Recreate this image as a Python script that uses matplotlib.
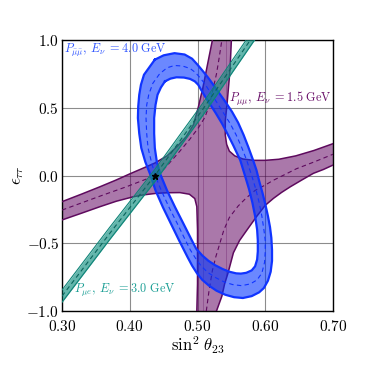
import matplotlib
matplotlib.use("Agg")
import numpy as np
import matplotlib.pyplot as plt
from matplotlib.path import Path
from matplotlib.patches import PathPatch

# ---- data (sin^2 theta23, eps_tautau) ----
true_point = (0.437, 0.0)

# P_mumu, E = 1.5 GeV : four boundary curves of the band + the two central branches
pm_ul_x = [0.300, 0.330, 0.356, 0.380, 0.400, 0.420, 0.437, 0.455, 0.470, 0.483, 0.494, 0.501, 0.508, 0.514, 0.518, 0.522]
pm_ul_y = [-0.193, -0.135, -0.083, -0.033, 0.012, 0.055, 0.092, 0.145, 0.215, 0.285, 0.375, 0.500, 0.650, 0.800, 0.900, 1.000]
pm_ur_x = [0.550, 0.548, 0.544, 0.541, 0.541, 0.543, 0.547, 0.555, 0.567, 0.583, 0.600, 0.620, 0.645, 0.672, 0.700]
pm_ur_y = [1.000, 0.780, 0.550, 0.400, 0.300, 0.230, 0.180, 0.145, 0.122, 0.112, 0.112, 0.120, 0.145, 0.185, 0.235]
pm_lr_x = [0.700, 0.686, 0.671, 0.655, 0.637, 0.624, 0.612, 0.600, 0.587, 0.573, 0.562, 0.553, 0.545, 0.540, 0.536, 0.528]
pm_lr_y = [0.077, 0.045, 0.016, -0.030, -0.083, -0.125, -0.169, -0.220, -0.304, -0.402, -0.480, -0.570, -0.720, -0.800, -0.890, -1.000]
pm_ll_x = [0.499, 0.500, 0.500, 0.500, 0.499, 0.496, 0.488, 0.474, 0.457, 0.440, 0.420, 0.405, 0.380, 0.356, 0.330, 0.300]
pm_ll_y = [-1.000, -0.800, -0.600, -0.400, -0.230, -0.170, -0.138, -0.126, -0.127, -0.131, -0.143, -0.157, -0.190, -0.230, -0.276, -0.328]
pm_mid_a_x = [0.300, 0.330, 0.360, 0.395, 0.420, 0.437, 0.448, 0.459, 0.474, 0.489, 0.501, 0.511, 0.518, 0.523, 0.528, 0.532, 0.536]
pm_mid_a_y = [-0.255, -0.200, -0.145, -0.083, -0.035, 0.000, 0.035, 0.095, 0.180, 0.270, 0.350, 0.430, 0.530, 0.640, 0.750, 0.870, 1.000]
pm_mid_b_x = [0.513, 0.517, 0.522, 0.527, 0.533, 0.539, 0.547, 0.560, 0.572, 0.585, 0.600, 0.612, 0.626, 0.646, 0.672, 0.700]
pm_mid_b_y = [-1.000, -0.850, -0.700, -0.600, -0.500, -0.400, -0.310, -0.225, -0.165, -0.110, -0.070, -0.035, 0.000, 0.050, 0.100, 0.157]
pm_seams_x = [0.508, 0.542]

# Pbar_mumu, E = 4.0 GeV : closed ring (outer edge, inner edge, centre line)
pb_out_x = [0.437, 0.450, 0.466, 0.481, 0.492, 0.500, 0.508, 0.516, 0.524, 0.531, 0.541, 0.551, 0.560, 0.568,
            0.575, 0.582, 0.587, 0.591, 0.596, 0.600, 0.604, 0.607, 0.609, 0.610, 0.610, 0.608, 0.604, 0.598,
            0.591, 0.580, 0.567, 0.554, 0.541, 0.528, 0.517, 0.507, 0.499, 0.492, 0.4855, 0.480, 0.4725, 0.4605,
            0.449, 0.438, 0.430, 0.423, 0.417, 0.414, 0.412, 0.4125, 0.414, 0.4165, 0.421]
pb_out_y = [0.855, 0.887, 0.903, 0.893, 0.862, 0.818, 0.770, 0.720, 0.665, 0.615, 0.545, 0.470, 0.390, 0.300,
            0.210, 0.114, 0.040, -0.040, -0.130, -0.210, -0.300, -0.380, -0.460, -0.550, -0.630, -0.710, -0.776, -0.830,
            -0.862, -0.890, -0.904, -0.898, -0.880, -0.850, -0.813, -0.770, -0.720, -0.665, -0.604, -0.550, -0.476, -0.353,
            -0.235, -0.110, 0.011, 0.100, 0.203, 0.310, 0.424, 0.510, 0.596, 0.670, 0.744]
pb_in_x = [0.452, 0.460, 0.469, 0.480, 0.489, 0.496, 0.501, 0.505, 0.511, 0.518, 0.527, 0.536, 0.545, 0.553,
           0.563, 0.570, 0.576, 0.581, 0.585, 0.588, 0.589, 0.589, 0.588, 0.585, 0.580, 0.572, 0.564, 0.557,
           0.547, 0.537, 0.526, 0.516, 0.507, 0.498, 0.4914, 0.479, 0.467, 0.455, 0.445, 0.440, 0.437, 0.436,
           0.436, 0.438, 0.441, 0.446]
pb_in_y = [0.695, 0.715, 0.725, 0.723, 0.713, 0.695, 0.670, 0.635, 0.585, 0.530, 0.460, 0.385, 0.300, 0.220,
           0.114, 0.000, -0.100, -0.200, -0.300, -0.400, -0.480, -0.560, -0.620, -0.670, -0.700, -0.718, -0.724, -0.722,
           -0.710, -0.690, -0.662, -0.629, -0.590, -0.540, -0.476, -0.353, -0.235, -0.110, 0.011, 0.100, 0.203, 0.310,
           0.424, 0.520, 0.596, 0.650]
pb_mid_x = [0.4375, 0.432, 0.427, 0.425, 0.424, 0.425, 0.428, 0.434, 0.444, 0.455, 0.466, 0.478, 0.489, 0.497,
            0.504, 0.511, 0.518, 0.524, 0.531, 0.548, 0.557, 0.565, 0.5725, 0.580, 0.586, 0.591, 0.595, 0.598,
            0.600, 0.600, 0.599, 0.595, 0.588, 0.578, 0.565, 0.552, 0.540, 0.528, 0.515, 0.505, 0.497, 0.4895,
            0.482, 0.470, 0.458, 0.4465, 0.4375]
pb_mid_y = [0.000, 0.100, 0.203, 0.310, 0.424, 0.520, 0.596, 0.680, 0.750, 0.795, 0.812, 0.808, 0.790, 0.760,
            0.720, 0.675, 0.620, 0.575, 0.520, 0.385, 0.300, 0.210, 0.114, 0.000, -0.100, -0.200, -0.300, -0.400,
            -0.480, -0.560, -0.640, -0.720, -0.770, -0.800, -0.813, -0.805, -0.787, -0.757, -0.715, -0.665, -0.610, -0.550,
            -0.476, -0.353, -0.235, -0.110, 0.000]

# P_mue, E = 3.0 GeV : narrow band
pe_x = [0.300, 0.370, 0.437, 0.508, 0.578, 0.590]
pe_mid = [-0.890, -0.430, 0.000, 0.490, 1.000, 1.087]
pe_lo = [-0.935, -0.475, -0.045, 0.445, 0.955, 1.042]
pe_hi = [-0.845, -0.385, 0.045, 0.535, 1.045, 1.132]

xticks = [0.30, 0.40, 0.50, 0.60, 0.70]
yticks = [-1.0, -0.5, 0.0, 0.5, 1.0]

# ---- style ----
plt.rcParams['mathtext.fontset'] = 'cm'
plt.rcParams['font.family'] = 'serif'

purple_fill = '#640a64'
purple_line = '#5e0a5e'
blue_fill = '#0033ff'
blue_line = '#1034ff'
teal_fill = '#109080'
teal_line = '#0f8478'
dash = (0, (4, 3))

fig = plt.figure(figsize=(3.74, 3.74), dpi=100)
ax = fig.add_axes([0.1658, 0.1684, 0.7246, 0.7246])

# purple band
px = pm_ul_x + pm_ur_x + pm_lr_x + pm_ll_x
py = pm_ul_y + pm_ur_y + pm_lr_y + pm_ll_y
band = ax.fill(px, py, color=purple_fill, alpha=0.55, lw=0, zorder=2)[0]
for sx in pm_seams_x:
    seam = ax.axvline(sx, color=purple_line, alpha=0.35, lw=0.6, zorder=2)
    seam.set_clip_path(band)
for cx, cy in [(pm_ul_x, pm_ul_y), (pm_ur_x, pm_ur_y), (pm_lr_x, pm_lr_y), (pm_ll_x, pm_ll_y)]:
    ax.plot(cx, cy, color=purple_line, lw=1.1, zorder=3)
ax.plot(pm_mid_a_x, pm_mid_a_y, color=purple_line, lw=0.8, ls=dash, zorder=3)
ax.plot(pm_mid_b_x, pm_mid_b_y, color=purple_line, lw=0.8, ls=dash, zorder=3)

# blue ring
outer = np.column_stack([pb_out_x + pb_out_x[:1], pb_out_y + pb_out_y[:1]])
inner = np.column_stack([pb_in_x + pb_in_x[:1], pb_in_y + pb_in_y[:1]])[::-1]
verts = np.concatenate([outer, inner])
codes = ([Path.MOVETO] + [Path.LINETO] * (len(outer) - 2) + [Path.CLOSEPOLY] +
         [Path.MOVETO] + [Path.LINETO] * (len(inner) - 2) + [Path.CLOSEPOLY])
ax.add_patch(PathPatch(Path(verts, codes), facecolor=blue_fill, alpha=0.58, lw=0, zorder=4))
ax.plot(outer[:, 0], outer[:, 1], color=blue_line, lw=1.6, zorder=5)
ax.plot(inner[:, 0], inner[:, 1], color=blue_line, lw=1.6, zorder=5)
ax.plot(pb_mid_x, pb_mid_y, color=blue_line, lw=0.8, ls=dash, zorder=5)

# teal band
ax.fill_between(pe_x, pe_lo, pe_hi, color=teal_fill, alpha=0.65, lw=0, zorder=6)
ax.plot(pe_x, pe_lo, color=teal_line, lw=0.8, zorder=7)
ax.plot(pe_x, pe_hi, color=teal_line, lw=0.8, zorder=7)
ax.plot(pe_x, pe_mid, color='#0b645c', lw=0.8, ls=dash, zorder=7)

ax.plot(*true_point, marker='*', color='k', ms=5, zorder=8)

ax.text(0.303, 0.905, r'$P_{\bar{\mu}\bar{\mu}},\, E_{\nu}\ {=}4.0\ \mathrm{GeV}$', color='#2f55ff', fontsize=8.8, zorder=9)
ax.text(0.546, 0.545, r'$P_{\mu\mu},\, E_{\nu}\ {=}1.5\ \mathrm{GeV}$', color='#6a116a', fontsize=8.8, zorder=9)
ax.text(0.318, -0.865, r'$P_{\mu e},\, E_{\nu}\ {=}3.0\ \mathrm{GeV}$', color='#1a9e94', fontsize=8.8, zorder=9)

ax.set_xlim(0.30, 0.70)
ax.set_ylim(-1.0, 1.0)
ax.set_xticks(xticks, [r'$%.2f$' % t for t in xticks])
ax.set_yticks(yticks, [r'$%.1f$' % t if t >= 0 else r'$-%.1f$' % -t for t in yticks])
ax.tick_params(length=0, labelsize=11)
ax.tick_params(axis='x', pad=6)
ax.tick_params(axis='y', pad=2)
ax.grid(True, color='k', alpha=0.45, lw=0.8, zorder=1)
ax.set_axisbelow(True)
for s in ax.spines.values():
    s.set_linewidth(1.0)

ax.set_xlabel(r'$\sin^2\,\theta_{23}$', fontsize=12, labelpad=0)
ax.set_ylabel(r'$\epsilon_{\tau\tau}$', fontsize=12, labelpad=0)

fig.savefig('out.png', dpi=100)
